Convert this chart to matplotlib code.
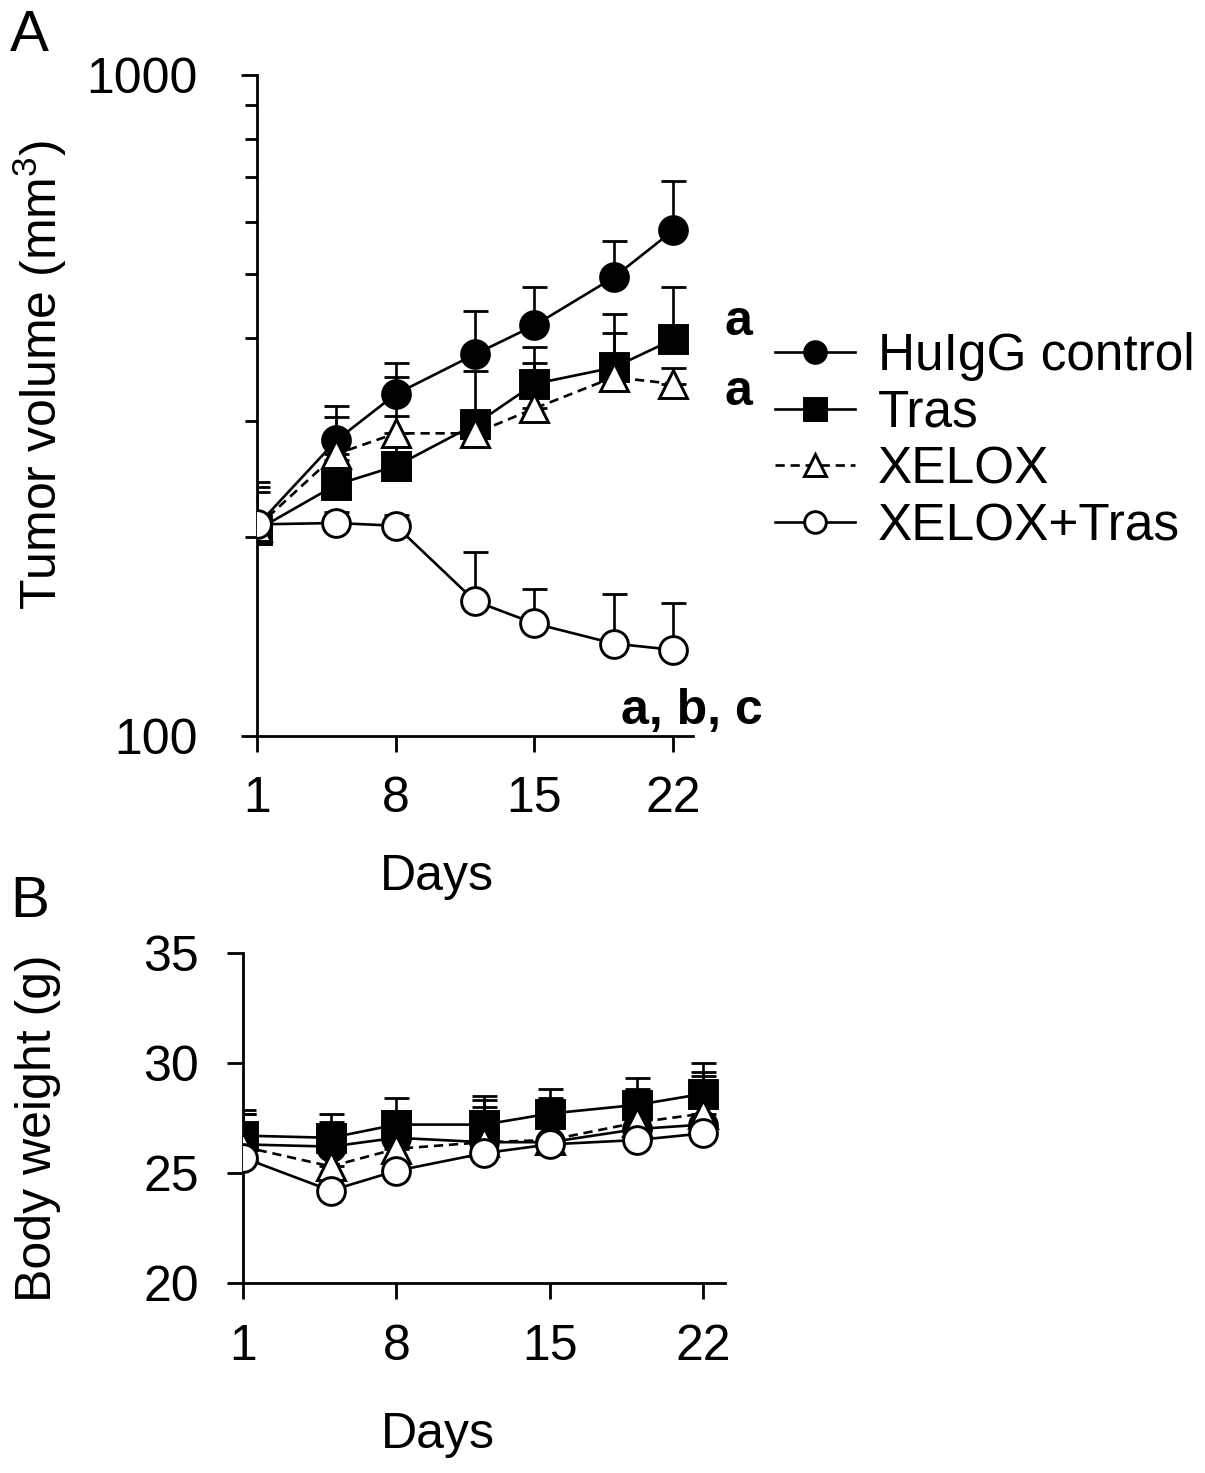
import numpy as np
import matplotlib.pyplot as plt

plt.rcParams['font.family'] = ['Liberation Sans', 'DejaVu Sans']
plt.rcParams['mathtext.fontset'] = 'custom'
plt.rcParams['mathtext.rm'] = 'Liberation Sans'

# days of measurement
days = [1, 5, 8, 12, 15, 19, 22]
groups = ['HuIgG control', 'Tras', 'XELOX', 'XELOX+Tras']

# A: tumor volume (mm3), mean and upper SE
tumor_hu = [208, 280, 329, 378, 418, 494, 582]
tumor_hu_err = [34, 36, 38, 61, 59, 66, 109]
tumor_tras = [205, 240, 256, 296, 341, 361, 398]
tumor_tras_err = [33, 22, 49, 61, 47, 74, 79]
tumor_xelox = [207, 267, 287, 287, 313, 349, 341]
tumor_xelox_err = [27, 37, 62, 23, 54, 58, 19]
tumor_xt = [209, 210, 208, 160, 148, 138, 135]
tumor_xt_err = [6, 8, 8, 30, 19, 26, 24]

# B: body weight (g), mean and upper SE
weight_hu = [26.3, 26.2, 26.6, 26.4, 26.4, 27.0, 27.2]
weight_hu_err = [1.4, 1.1, 0.6, 1.6, 2.0, 1.8, 2.4]
weight_tras = [26.7, 26.6, 27.2, 27.2, 27.7, 28.1, 28.6]
weight_tras_err = [1.15, 1.1, 1.2, 1.3, 1.1, 1.2, 1.4]
weight_xelox = [26.2, 25.3, 26.1, 26.4, 26.5, 27.3, 27.7]
weight_xelox_err = [1.5, 0.8, 1.0, 1.9, 0.8, 1.0, 1.7]
weight_xt = [25.7, 24.2, 25.1, 25.9, 26.3, 26.5, 26.8]
weight_xt_err = [0.5, 0.6, 0.5, 0.5, 0.4, 0.5, 0.5]

styles = [
    dict(marker='o', mfc='black', ls='-'),
    dict(marker='s', mfc='black', ls='-'),
    dict(marker='^', mfc='white', ls=(0, (3.5, 2.2))),
    dict(marker='o', mfc='white', ls='-'),
]

FS = 36


def draw(ax, means, errs):
    lines = []
    for i, (m, e) in enumerate(zip(means, errs)):
        ax.errorbar(days, m, yerr=[np.zeros(len(e)), e], fmt='none',
                    ecolor='black', elinewidth=1.9, capsize=9, capthick=2.0,
                    zorder=2)
    for i, m in enumerate(means):
        st = styles[i]
        ln, = ax.plot(days, m, color='black', lw=1.9, ls=st['ls'],
                      marker=st['marker'], ms=20, mfc=st['mfc'], mec='black',
                      mew=2.1, label=groups[i], zorder=3 + i)
        lines.append(ln)
    return lines


def style_axes(ax):
    for s in ['top', 'right']:
        ax.spines[s].set_visible(False)
    for s in ['left', 'bottom']:
        ax.spines[s].set_linewidth(2.0)
    ax.set_xticks([1, 8, 15, 22])
    ax.tick_params(which='major', length=11.5, width=2.0, labelsize=FS)
    ax.tick_params(which='minor', length=8.5, width=2.0)


fig = plt.figure(figsize=(12.05, 14.73), dpi=100)

# panel A
axA = fig.add_axes([257/1205, 1 - 736/1473, 436/1205, 661/1473])
lines = draw(axA, [tumor_hu, tumor_tras, tumor_xelox, tumor_xt],
             [tumor_hu_err, tumor_tras_err, tumor_xelox_err, tumor_xt_err])
axA.set_yscale('log')
axA.set_xlim(1, 23)
axA.set_ylim(100, 1000)
style_axes(axA)
axA.set_yticks([100, 1000], labels=['100', '1000'])
axA.set_yticks([200, 300, 400, 500, 600, 700, 800, 900], minor=True)
axA.yaxis.set_minor_formatter(plt.NullFormatter())
axA.tick_params(axis='y', pad=31)
axA.tick_params(axis='x', pad=17)
axA.set_ylabel('Tumor volume (mm$^3$)', fontsize=FS, va='center')
axA.yaxis.set_label_coords(-0.498, 0.546)
axA.set_xlabel('Days', fontsize=FS, va='center')
axA.xaxis.set_label_coords(0.413, -0.214)

axA.text(25.3, 423, 'a', fontsize=36, fontweight='bold', ha='center', va='center', clip_on=False)
axA.text(25.3, 331, 'a', fontsize=36, fontweight='bold', ha='center', va='center', clip_on=False)
axA.text(26.5, 109, 'a, b, c', fontsize=36, fontweight='bold', ha='right', va='center', clip_on=False)

leg = axA.legend(handles=lines, loc='upper left',
                 bbox_to_anchor=(775/1205, 1 - 332/1473), bbox_transform=fig.transFigure,
                 frameon=False, fontsize=37, handlelength=1.55, handletextpad=0.45,
                 labelspacing=0.15, borderpad=0, borderaxespad=0, markerscale=0.78)

# panel B
axB = fig.add_axes([243/1205, 1 - 1283/1473, 482/1205, 330/1473])
draw(axB, [weight_hu, weight_tras, weight_xelox, weight_xt],
     [weight_hu_err, weight_tras_err, weight_xelox_err, weight_xt_err])
axB.set_xlim(1, 23)
axB.set_ylim(20, 35)
style_axes(axB)
axB.set_yticks([20, 25, 30, 35])
axB.tick_params(axis='y', pad=20)
axB.tick_params(axis='x', pad=18)
axB.set_ylabel('Body weight (g)', fontsize=FS, va='center')
axB.yaxis.set_label_coords(-0.425, 0.47)
axB.set_xlabel('Days', fontsize=FS, va='center')
axB.xaxis.set_label_coords(0.405, -0.46)

fig.text(10/1205, 1 - 36/1473, 'A', fontsize=42, va='center', ha='left')
fig.text(10/1205, 1 - 902/1473, 'B', fontsize=42, va='center', ha='left')

fig.savefig('out.png', dpi=100)
